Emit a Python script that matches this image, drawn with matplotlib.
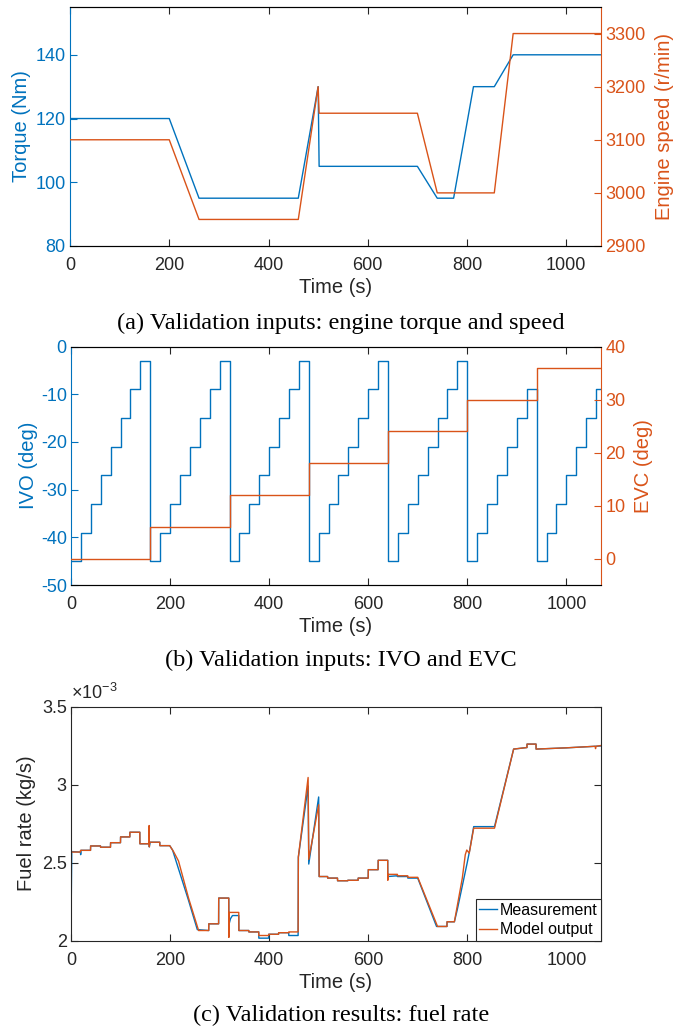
import matplotlib
matplotlib.use("Agg")
import matplotlib.pyplot as plt
from matplotlib.ticker import FuncFormatter

# ---------------- data ----------------
# (a) engine torque and speed
torque_t = [0, 200, 260, 460, 500, 502, 700, 740, 773, 813, 855, 893, 1070]
torque_nm = [120, 120, 95, 95, 130, 105, 105, 95, 95, 130, 130, 140, 140]
speed_t = [0, 200, 260, 460, 500, 502, 700, 740, 855, 893, 1070]
speed_rpm = [3100, 3100, 2950, 2950, 3200, 3150, 3150, 3000, 3000, 3300, 3300]

# (b) IVO staircase (step start times and levels) and EVC steps
ivo_t = [0, 20, 40, 60, 80, 100, 120, 140,
         160, 180, 200, 220, 240, 260, 280, 300,
         320, 340, 360, 380, 400, 420, 440, 460,
         480, 500, 520, 540, 560, 580, 600, 620,
         640, 660, 680, 700, 720, 740, 760, 780,
         800, 820, 840, 860, 880, 900, 920,
         940, 960, 980, 1000, 1020, 1040, 1060, 1070]
ivo_deg = [-45, -39, -33, -27, -21, -15, -9, -3,
           -45, -39, -33, -27, -21, -15, -9, -3,
           -45, -39, -33, -27, -21, -15, -9, -3,
           -45, -39, -33, -27, -21, -15, -9, -3,
           -45, -39, -33, -27, -21, -15, -9, -3,
           -45, -39, -33, -27, -21, -15, -9,
           -45, -39, -33, -27, -21, -15, -9, -9]
evc_t = [0, 160, 320, 480, 640, 800, 940, 1070]
evc_deg = [0, 6, 12, 18, 24, 30, 36, 36]

# (c) fuel rate (kg/s): measurement and model output
meas_t = [0, 0.6, 1.5, 19, 19.5, 20.5, 39.4, 39.6, 59.5, 59.7, 79.7, 79.9,
          99.9, 100.1, 118.7, 118.9, 138.9, 139.1, 157.7, 158, 160, 179.2, 179.4,
          199.3, 205, 215, 237, 255, 278, 278.2, 298, 298.2, 318.5, 318.7, 322,
          326, 338.7, 338.9, 358.9, 359.1, 379, 379.2, 399, 399.2, 419, 419.2,
          439.5, 439.7, 458.5, 459, 478.7, 480, 500, 501, 518, 518.2, 538, 538.2,
          558.7, 558.9, 579.6, 579.8, 600, 600.2, 620, 620.2, 639.4, 639.6, 659,
          659.2, 679.8, 680, 700, 738, 759, 759.2, 774, 780, 790, 800, 805, 813,
          855, 893.6, 920.5, 920.7, 938.8, 939, 1000, 1070]
meas_rate = [3.22e-3, 2.28e-3, 2.57e-3, 2.567e-3, 2.55e-3, 2.578e-3, 2.578e-3,
             2.606e-3, 2.606e-3, 2.598e-3, 2.598e-3, 2.627e-3, 2.627e-3, 2.664e-3,
             2.664e-3, 2.694e-3, 2.694e-3, 2.62e-3, 2.62e-3, 2.60e-3, 2.63e-3,
             2.63e-3, 2.608e-3, 2.608e-3, 2.58e-3, 2.48e-3, 2.26e-3, 2.07e-3,
             2.064e-3, 2.107e-3, 2.107e-3, 2.272e-3, 2.272e-3, 2.10e-3, 2.14e-3,
             2.16e-3, 2.16e-3, 2.064e-3, 2.064e-3, 2.055e-3, 2.055e-3, 2.015e-3,
             2.015e-3, 2.04e-3, 2.04e-3, 2.05e-3, 2.05e-3, 2.032e-3, 2.032e-3,
             2.535e-3, 2.99e-3, 2.49e-3, 2.92e-3, 2.41e-3, 2.41e-3, 2.40e-3,
             2.40e-3, 2.383e-3, 2.383e-3, 2.386e-3, 2.386e-3, 2.40e-3, 2.40e-3,
             2.454e-3, 2.454e-3, 2.514e-3, 2.514e-3, 2.41e-3, 2.415e-3, 2.41e-3,
             2.41e-3, 2.40e-3, 2.40e-3, 2.09e-3, 2.09e-3, 2.12e-3, 2.12e-3,
             2.20e-3, 2.35e-3, 2.50e-3, 2.58e-3, 2.73e-3, 2.73e-3, 3.227e-3,
             3.237e-3, 3.259e-3, 3.259e-3, 3.227e-3, 3.235e-3, 3.247e-3]
model_t = [0, 19, 19.2, 39.4, 39.6, 59.5, 59.7, 79.7, 79.9, 99.9, 100.1, 118.7,
           118.9, 138.9, 139.1, 157.7, 157.8, 158.2, 158.5, 179.2, 179.4, 199.3,
           207, 217, 237.5, 257.6, 278, 278.2, 298, 298.2, 318.5, 318.7, 319.5,
           338.7, 338.9, 358.9, 359.1, 379, 379.2, 399, 399.2, 419, 419.2, 439.5,
           439.7, 458.5, 459, 478.7, 480, 500, 501, 518, 518.2, 538, 538.2, 558.7,
           558.9, 579.6, 579.8, 600, 600.2, 620, 620.2, 639.4, 639.6, 640.2, 641,
           659, 659.2, 679.8, 680, 700, 740, 759, 759.2, 774, 790, 796, 799, 804,
           813, 855, 893.6, 920.5, 920.7, 938.8, 939, 1000, 1058, 1059, 1060, 1070]
model_rate = [2.567e-3, 2.567e-3, 2.578e-3, 2.578e-3, 2.606e-3, 2.606e-3,
              2.598e-3, 2.598e-3, 2.627e-3, 2.627e-3, 2.664e-3, 2.664e-3,
              2.694e-3, 2.694e-3, 2.62e-3, 2.62e-3, 2.737e-3, 2.60e-3, 2.63e-3,
              2.63e-3, 2.608e-3, 2.608e-3, 2.57e-3, 2.51e-3, 2.27e-3, 2.064e-3,
              2.064e-3, 2.107e-3, 2.107e-3, 2.272e-3, 2.272e-3, 2.02e-3, 2.18e-3,
              2.18e-3, 2.064e-3, 2.064e-3, 2.055e-3, 2.055e-3, 2.032e-3, 2.032e-3,
              2.04e-3, 2.04e-3, 2.05e-3, 2.05e-3, 2.055e-3, 2.055e-3, 2.535e-3,
              3.045e-3, 2.52e-3, 2.87e-3, 2.41e-3, 2.41e-3, 2.40e-3, 2.40e-3,
              2.383e-3, 2.383e-3, 2.386e-3, 2.386e-3, 2.40e-3, 2.40e-3, 2.454e-3,
              2.454e-3, 2.514e-3, 2.514e-3, 2.386e-3, 2.424e-3, 2.424e-3, 2.424e-3,
              2.415e-3, 2.415e-3, 2.405e-3, 2.405e-3, 2.09e-3, 2.09e-3, 2.12e-3,
              2.12e-3, 2.40e-3, 2.55e-3, 2.58e-3, 2.56e-3, 2.72e-3, 2.72e-3,
              3.227e-3, 3.237e-3, 3.259e-3, 3.259e-3, 3.227e-3, 3.235e-3, 3.245e-3,
              3.23e-3, 3.245e-3, 3.25e-3]

xticks = [0, 200, 400, 600, 800, 1000]
captions = ["(a) Validation inputs: engine torque and speed",
            "(b) Validation inputs: IVO and EVC",
            "(c) Validation results: fuel rate"]
legend_labels = ["Measurement", "Model output"]

# ---------------- style ----------------
BLUE = "#0072BD"
RED = "#D95319"
DARK = "#262626"
plt.rcParams["font.family"] = ["Liberation Sans", "DejaVu Sans"]
plt.rcParams["axes.unicode_minus"] = False
plt.rcParams["mathtext.fontset"] = "custom"
plt.rcParams["mathtext.rm"] = "Liberation Sans"
TICK_FS = 13
LABEL_FS = 14.5
LW = 1.0

W, H = 683, 1034
fig = plt.figure(figsize=(W / 100, H / 100), dpi=100)


def rect(l, t, r, b):
    return [l / W, 1 - b / H, (r - l) / W, (b - t) / H]


def style_x(ax):
    ax.set_xlim(0, 1070)
    ax.set_xticks(xticks)
    ax.tick_params(axis="x", direction="in", length=5, width=0.8, colors=DARK,
                   labelsize=TICK_FS, top=True, pad=8)
    ax.set_xlabel("Time (s)", fontsize=LABEL_FS, color=DARK, labelpad=3)
    for s in ("top", "bottom"):
        ax.spines[s].set_color(DARK)
        ax.spines[s].set_linewidth(0.8)


def style_yy(ax, ax2):
    ax.tick_params(axis="y", direction="in", length=5, width=0.8, colors=BLUE,
                   labelsize=TICK_FS, pad=3)
    ax2.tick_params(axis="y", direction="in", length=5, width=0.8, colors=RED,
                    labelsize=TICK_FS, pad=3)
    ax.spines["left"].set_color(BLUE)
    ax2.spines["right"].set_color(RED)
    for s in ("left", "right"):
        ax.spines[s].set_linewidth(0.8)
        ax2.spines[s].set_linewidth(0.8)
    ax.spines["right"].set_visible(False)
    ax2.spines["left"].set_visible(False)


# ---------------- (a) ----------------
axa = fig.add_axes(rect(70, 7, 601, 246))
axa.plot(torque_t, torque_nm, color=BLUE, lw=LW)
axa.set_ylim(80, 155)
axa.set_yticks([80, 100, 120, 140])
axa.set_ylabel("Torque (Nm)", color=BLUE, fontsize=LABEL_FS, labelpad=3)
axa2 = axa.twinx()
axa2.plot(speed_t, speed_rpm, color=RED, lw=LW)
axa2.set_ylim(2900, 3350)
axa2.set_yticks([2900, 3000, 3100, 3200, 3300])
axa2.set_ylabel("Engine speed (r/min)", color=RED, fontsize=LABEL_FS, labelpad=7)
style_x(axa)
style_yy(axa, axa2)

# ---------------- (b) ----------------
axb = fig.add_axes(rect(71, 346.5, 601, 585))
axb.step(ivo_t, ivo_deg, where="post", color=BLUE, lw=LW)
axb.set_ylim(-50, 0)
axb.set_yticks([-50, -40, -30, -20, -10, 0])
axb.set_ylabel("IVO (deg)", color=BLUE, fontsize=LABEL_FS, labelpad=2)
axb2 = axb.twinx()
axb2.step(evc_t, evc_deg, where="post", color=RED, lw=LW)
axb2.set_ylim(-5, 40)
axb2.set_yticks([0, 10, 20, 30, 40])
axb2.set_ylabel("EVC (deg)", color=RED, fontsize=LABEL_FS, labelpad=6)
style_x(axb)
style_yy(axb, axb2)

# ---------------- (c) ----------------
axc = fig.add_axes(rect(71, 706.5, 601, 940.5))
axc.plot(meas_t, meas_rate, color=BLUE, lw=LW, label=legend_labels[0])
axc.plot(model_t, model_rate, color=RED, lw=LW, label=legend_labels[1])
axc.set_ylim(2e-3, 3.5e-3)
axc.set_yticks([2e-3, 2.5e-3, 3e-3, 3.5e-3])
axc.yaxis.set_major_formatter(FuncFormatter(lambda v, p: "%g" % round(v * 1e3, 4)))
axc.tick_params(axis="y", direction="in", length=5, width=0.8, colors=DARK,
                labelsize=TICK_FS, right=True, pad=3)
for s in ("left", "right"):
    axc.spines[s].set_color(DARK)
    axc.spines[s].set_linewidth(0.8)
axc.set_ylabel("Fuel rate (kg/s)", color=DARK, fontsize=LABEL_FS, labelpad=4)
axc.text(0.0, 1.015, r"$\times\mathregular{10^{-3}}$", transform=axc.transAxes,
         fontsize=TICK_FS, color=DARK, ha="left", va="bottom")
style_x(axc)
leg = axc.legend(loc="lower right", borderaxespad=0, fancybox=False, framealpha=1,
                 edgecolor=DARK, fontsize=11.5, handlelength=1.1, handletextpad=0.2,
                 borderpad=0.2, labelspacing=0.3)
leg.get_frame().set_linewidth(0.8)

# ---------------- captions ----------------
for cap, y in zip(captions, [323, 660, 1015]):
    fig.text(341 / W, 1 - y / H, cap, ha="center", va="center",
             family=["Liberation Serif", "DejaVu Serif"], fontsize=17.5, color="black")

fig.savefig("out.png", dpi=100)
